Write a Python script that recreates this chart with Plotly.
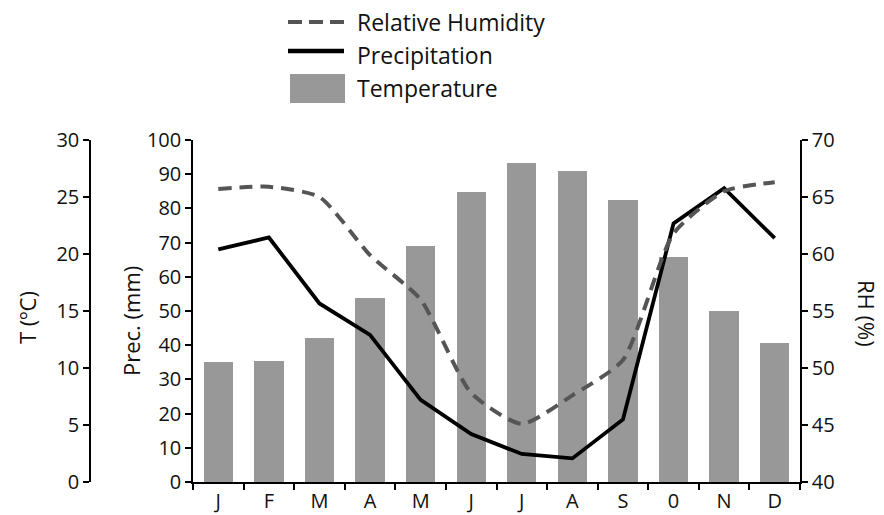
import plotly.graph_objects as go

months = ["J", "F", "M", "A", "M", "J", "J", "A", "S", "0", "N", "D"]
month_pos = list(range(1, 13))
temperature = [10.5, 10.6, 12.6, 16.1, 20.7, 25.4, 28.0, 27.3, 24.7, 19.7, 15.0, 12.2]
precipitation = [68.0, 71.5, 52.2, 43.0, 24.0, 14.0, 8.2, 6.9, 18.3, 75.6, 85.9, 71.3]
humidity = [65.7, 65.9, 65.0, 59.9, 56.0, 47.8, 45.1, 47.6, 50.7, 61.8, 65.5, 66.3]

series_names = ["Relative Humidity", "Precipitation", "Temperature"]

FONT = "Open Sans"
TXT = "#111111"
BAR_COLOR = "#989898"
RH_COLOR = "#555555"

fig = go.Figure()
fig.add_trace(go.Bar(
    x=month_pos, y=temperature, name=series_names[2], yaxis="y",
    marker=dict(color=BAR_COLOR, line=dict(width=0)), width=0.58,
    showlegend=False,
))
fig.add_trace(go.Scatter(
    x=month_pos, y=precipitation, name=series_names[1], yaxis="y2",
    mode="lines", line=dict(color="#000000", width=3.8),
    showlegend=False,
))
fig.add_trace(go.Scatter(
    x=month_pos, y=humidity, name=series_names[0], yaxis="y3",
    mode="lines", line=dict(color=RH_COLOR, width=4, dash="13px,8px", shape="spline", smoothing=0.6),
    showlegend=False,
))

L, R, T, B = 90, 84, 140, 33
W = 884 - L - R
H = 515 - T - B
dom0 = (193 - L) / W


def px(xp):
    return (xp - L) / W


def py(yp):
    return (515 - B - yp) / H


axis_common = dict(
    showline=True, linecolor="#000000", linewidth=1.5,
    ticks="outside", ticklen=6, tickwidth=1.5, tickcolor="#000000",
    showgrid=False, zeroline=False,
    tickfont=dict(family=FONT, size=20, color=TXT),
)

fig.update_layout(
    width=884, height=515,
    margin=dict(l=L, r=R, t=T, b=B, autoexpand=False),
    paper_bgcolor="white", plot_bgcolor="white",
    font=dict(family=FONT, color=TXT),
    bargap=0,
    xaxis=dict(
        domain=[dom0, 1], range=[0.5, 12.5], anchor="y",
        showline=True, linecolor="#000000", linewidth=1.5,
        tickvals=month_pos, ticktext=months, ticks="", showgrid=False, zeroline=False,
        tickfont=dict(family=FONT, size=20, color=TXT),
        minor=dict(tickvals=[i + 0.5 for i in range(0, 13)], ticks="outside",
                   ticklen=6, tickwidth=1.5, tickcolor="#000000", showgrid=False),
    ),
    yaxis=dict(range=[0, 30], tickvals=[0, 5, 10, 15, 20, 25, 30],
               anchor="free", position=0, side="left", **axis_common),
    yaxis2=dict(range=[0, 100], tickvals=list(range(0, 101, 10)),
                overlaying="y", anchor="x", side="left", **axis_common),
    yaxis3=dict(range=[40, 70], tickvals=[40, 45, 50, 55, 60, 65, 70],
                overlaying="y", anchor="x", side="right", **axis_common),
    showlegend=False,
)

# axis titles
title_font = dict(family=FONT, size=22, color=TXT)
fig.add_annotation(text="T (ºC)", xref="paper", yref="paper", x=px(27), y=py(317),
                   xanchor="center", yanchor="middle", textangle=-90, showarrow=False, font=title_font)
fig.add_annotation(text="Prec. (mm)", xref="paper", yref="paper", x=px(131), y=py(321),
                   xanchor="center", yanchor="middle", textangle=-90, showarrow=False, font=title_font)
fig.add_annotation(text="RH (%)", xref="paper", yref="paper", x=px(867), y=py(313),
                   xanchor="center", yanchor="middle", textangle=90, showarrow=False, font=title_font)

# legend (drawn as key swatches + labels)
fig.add_shape(type="line", xref="paper", yref="paper", x0=px(288), x1=px(344), y0=py(22), y1=py(22),
              line=dict(color=RH_COLOR, width=4, dash="14px,7px"))
fig.add_shape(type="line", xref="paper", yref="paper", x0=px(288), x1=px(344), y0=py(51), y1=py(51),
              line=dict(color="#000000", width=4.5))
fig.add_shape(type="rect", xref="paper", yref="paper", x0=px(290), x1=px(345), y0=py(74), y1=py(103),
              line=dict(width=0), fillcolor=BAR_COLOR)
legend_font = dict(family=FONT, size=23, color=TXT)
for name, ypos in zip(series_names, [22, 55, 88]):
    fig.add_annotation(text=name, xref="paper", yref="paper", x=px(355), y=py(ypos),
                       xanchor="left", yanchor="middle", showarrow=False, font=legend_font)

fig.write_html("out.html")
